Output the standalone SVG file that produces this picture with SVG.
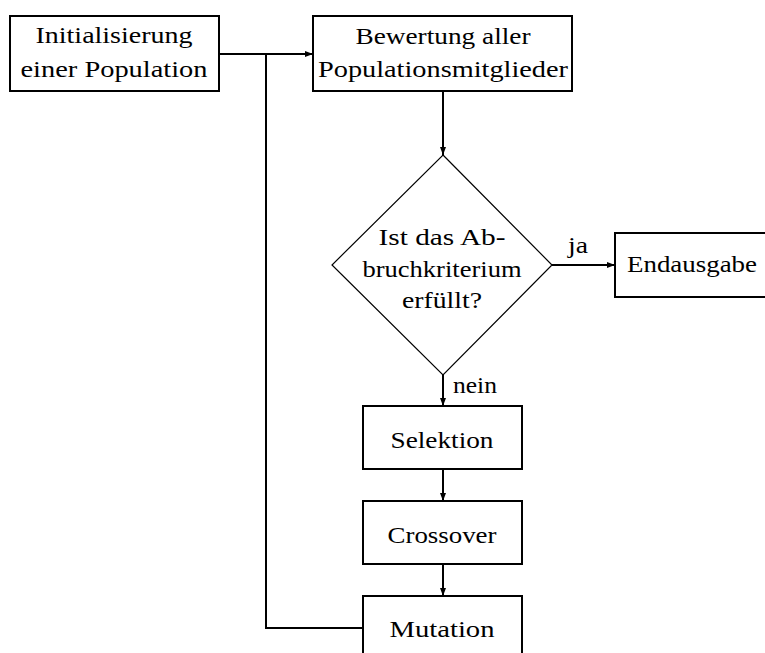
<svg xmlns="http://www.w3.org/2000/svg" width="765" height="653" viewBox="0 0 765 653">
<style>
.box{fill:#fff;stroke:#000;stroke-width:2}
.dia{fill:#fff;stroke:#000;stroke-width:1.2}
.c{fill:none;stroke:#000;stroke-width:2}
text{font-family:"Liberation Serif","DejaVu Serif",serif;font-size:24px;fill:#000}
.m{text-anchor:middle}
</style>
<defs>
<marker id="ah" viewBox="0 0 8 6" refX="8" refY="3" markerWidth="8" markerHeight="6" markerUnits="userSpaceOnUse" orient="auto">
<path d="M0,0 L8,3 L0,6 Z" fill="#000"/>
</marker>
</defs>
<rect width="765" height="653" fill="#fff"/>
<g id="connectors">
<path class="c" d="M219,54 H313" marker-end="url(#ah)"/>
<path class="c" d="M363,628 H266 V54"/>
<path class="c" d="M443,91 V155" marker-end="url(#ah)"/>
<path class="c" d="M552,265 H615" marker-end="url(#ah)"/>
<path class="c" d="M443,375 V406" marker-end="url(#ah)"/>
<path class="c" d="M443,469 V501" marker-end="url(#ah)"/>
<path class="c" d="M443,564 V596" marker-end="url(#ah)"/>
<text x="568" y="253" textLength="20" lengthAdjust="spacingAndGlyphs">ja</text>
<text x="453" y="393" textLength="44" lengthAdjust="spacingAndGlyphs">nein</text>
</g>
<g id="init">
<rect class="box" x="10" y="16" width="209" height="75"/>
<text class="m" x="114" y="43" textLength="157" lengthAdjust="spacingAndGlyphs">Initialisierung</text>
<text class="m" x="114" y="77" textLength="187" lengthAdjust="spacingAndGlyphs">einer Population</text>
</g>
<g id="bewertung">
<rect class="box" x="313" y="16" width="259" height="75"/>
<text class="m" x="443" y="44" textLength="175" lengthAdjust="spacingAndGlyphs">Bewertung aller</text>
<text class="m" x="443" y="77" textLength="250" lengthAdjust="spacingAndGlyphs">Populationsmitglieder</text>
</g>
<g id="abbruch">
<polygon class="dia" points="443,155 552,265 443,375 332,265"/>
<text class="m" x="442" y="245" textLength="127" lengthAdjust="spacingAndGlyphs">Ist das Ab-</text>
<text class="m" x="442" y="277" textLength="159" lengthAdjust="spacingAndGlyphs">bruchkriterium</text>
<text class="m" x="442" y="308" textLength="80" lengthAdjust="spacingAndGlyphs">erfüllt?</text>
</g>
<g id="endausgabe">
<rect class="box" x="615" y="233" width="160" height="64"/>
<text x="627" y="272" textLength="130" lengthAdjust="spacingAndGlyphs">Endausgabe</text>
</g>
<g id="selektion">
<rect class="box" x="363" y="406" width="159" height="63"/>
<text class="m" x="442" y="448" textLength="103" lengthAdjust="spacingAndGlyphs">Selektion</text>
</g>
<g id="crossover">
<rect class="box" x="363" y="501" width="159" height="63"/>
<text class="m" x="442" y="543" textLength="109" lengthAdjust="spacingAndGlyphs">Crossover</text>
</g>
<g id="mutation">
<rect class="box" x="363" y="596" width="159" height="70"/>
<text class="m" x="442" y="637" textLength="105" lengthAdjust="spacingAndGlyphs">Mutation</text>
</g>
</svg>
